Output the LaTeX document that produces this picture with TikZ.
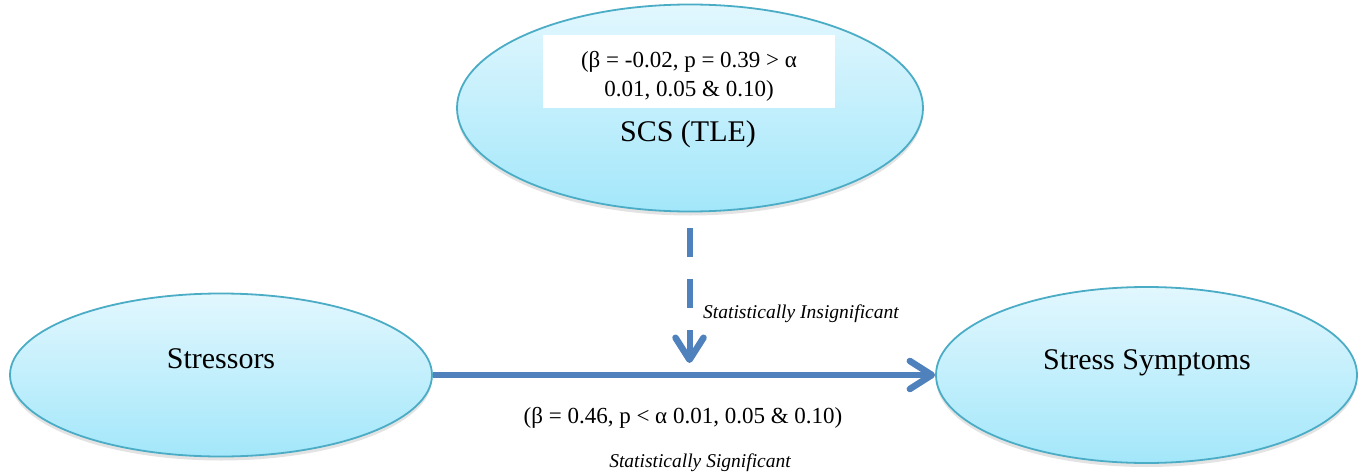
\documentclass[tikz,border=0pt]{standalone}
\usepackage{fontspec}
\setmainfont{Liberation Serif}
\usetikzlibrary{shapes.geometric,arrows.meta,shadows}
\definecolor{ellborder}{RGB}{75,172,198}
\definecolor{elltop}{RGB}{226,247,254}
\definecolor{ellbot}{RGB}{163,231,250}
\definecolor{arrowblue}{RGB}{79,129,189}
\begin{document}
\begin{tikzpicture}[x=1pt,y=-1pt,
  ellnode/.style={ellipse, draw=ellborder, line width=1.8pt, top color=elltop, bottom color=ellbot, inner sep=0pt,
    drop shadow={shadow xshift=0pt, shadow yshift=-4pt, opacity=0.22}},
  titletext/.style={font=\fontsize{30}{36}\selectfont, anchor=base, inner sep=0pt},
  stattext/.style={font=\fontsize{23}{28}\selectfont, anchor=base, inner sep=0pt},
  notetext/.style={font=\itshape\fontsize{19.5}{24}\selectfont, anchor=base, inner sep=0pt},
  conn/.style={draw=arrowblue, line width=6pt, -{Straight Barb[length=22pt,width=28pt,line width=6.5pt,line cap=round,line join=round]}},
]
\fill[white] (0,0) rectangle (1364,476);
\useasboundingbox (0,0) rectangle (1364,476);

% ellipses
\node[ellnode, minimum width=466pt, minimum height=207pt] (scs) at (690,108) {};
\node[ellnode, minimum width=422pt, minimum height=163pt] (str) at (221,375) {};
\node[ellnode, minimum width=421pt, minimum height=176pt] (sym) at (1146.5,375) {};

% white box inside top ellipse
\node[fill=white, minimum width=292pt, minimum height=73pt, inner sep=0pt] (box) at (689,71.5) {};
\node[stattext] (b1) at (689,68) {(β = -0.02, p = 0.39 > α};
\node[stattext] (b2) at (689,97) {0.01, 0.05 \& 0.10)};

% titles
\node[titletext] (t1) at (688,142) {SCS (TLE)};
\node[titletext] (t2) at (221,368) {Stressors};
\node[titletext] (t3) at (1147,369) {Stress Symptoms};

% connectors
\draw[conn] (str.east) -- (sym.west);
\coordinate (dtip) at (689.5,363);
\draw[conn, dash pattern=on 29pt off 22pt, shorten <=16pt] (scs.south -| dtip) -- (dtip);

% labels
\node[notetext, anchor=base west] (ins) at (703,318) {Statistically Insignificant};
\node[stattext] (sig) at (683,423) {(β = 0.46, p < α 0.01, 0.05 \& 0.10)};
\node[notetext] (sigs) at (700,467) {Statistically Significant};
\end{tikzpicture}
\end{document}
